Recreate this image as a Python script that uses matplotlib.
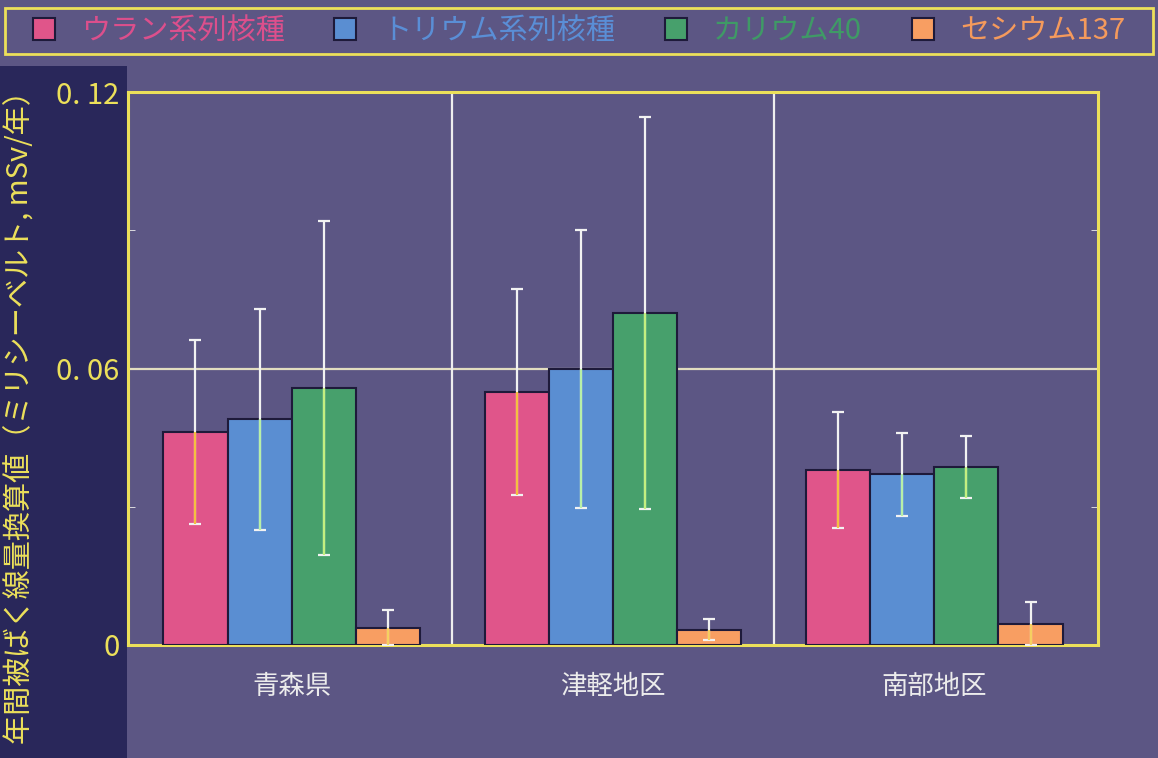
import matplotlib
matplotlib.use("Agg")
import matplotlib.pyplot as plt
from matplotlib.patches import Rectangle
import numpy as np

plt.rcParams['font.family'] = ['Noto Sans CJK JP', 'DejaVu Sans']

# データ
areas = ['青森県', '津軽地区', '南部地区']
series = ['ウラン系列核種', 'トリウム系列核種', 'カリウム40', 'セシウム137']
uran = [0.0462, 0.0549, 0.0380]
uran_sd = [0.0200, 0.0223, 0.0126]
thorium = [0.0490, 0.0599, 0.0371]
thorium_sd = [0.0240, 0.0302, 0.0090]
kalium = [0.0558, 0.0720, 0.0386]
kalium_sd = [0.0363, 0.0425, 0.0068]
cesium = [0.0037, 0.0033, 0.0046]
cesium_sd = [0.0039, 0.0023, 0.0047]
yticks = [0, 0.06, 0.12]
ytick_labels = ['0', '0. 06', '0. 12']

values = [uran, thorium, kalium, cesium]
sds = [uran_sd, thorium_sd, kalium_sd, cesium_sd]

bg = '#5c5684'
panel = '#29275a'
yellow = '#ece05a'
bar_colors = ['#e0558a', '#5a8ed2', '#47a06c', '#f89e62']
text_colors = ['#dc4f8c', '#5a8ed6', '#3f9a66', '#f59a5c']
inner_err = ['#f5c040', '#b8f0a8', '#c4f080', '#f5d060']

fig = plt.figure(figsize=(11.58, 7.58), dpi=100, facecolor=bg)

# 左の濃い帯
fig.patches.append(Rectangle((0, 0), 127 / 1158, 1 - 66 / 758, transform=fig.transFigure,
                             facecolor=panel, edgecolor='none', zorder=-1))

ax = fig.add_axes([128 / 1158, 1 - 645 / 758, 970 / 1158, 553 / 758])
ax.set_facecolor(bg)

x = np.arange(len(areas))
width = 0.2
handles = []
for i, (vals, sd) in enumerate(zip(values, sds)):
    pos = x + (i - 1.5) * width
    b = ax.bar(pos, vals, width, color=bar_colors[i], edgecolor='#1e1a3a', linewidth=1.5,
               zorder=3, label=series[i])
    handles.append(b)
    lower = np.minimum(np.array(sd), np.array(vals))
    ax.errorbar(pos, vals, yerr=[lower, sd], fmt='none', ecolor='#f2f2f2', elinewidth=1.6,
                capsize=4, capthick=1.6, zorder=4)
    # 棒の内側の誤差線は色付き
    ax.vlines(pos, np.array(vals) - lower, vals, color=inner_err[i], linewidth=1.6, zorder=5)

# 0.06 の線と区切り線
ax.axhline(0.06, color='#e2ddc0', linewidth=1.6, zorder=1)
for sep in [0.5, 1.5]:
    ax.axvline(sep, color='#eeeeee', linewidth=1.6, zorder=1)

ax.set_xlim(-0.51, 2.51)
ax.set_ylim(0, 0.12)
ax.set_yticks(yticks)
ax.set_yticklabels(ytick_labels)
ax.set_yticks([0.03, 0.09], minor=True)
ax.tick_params(axis='y', which='major', length=0, pad=6, labelsize=21, labelcolor=yellow)
ax.tick_params(axis='y', which='minor', direction='in', length=5, color='#eeeeee',
               left=True, right=True)
ax.set_xticks(x)
ax.set_xticklabels(areas)
ax.tick_params(axis='x', length=0, pad=20, labelsize=19, labelcolor='#ececec')

for s in ax.spines.values():
    s.set_color(yellow)
    s.set_linewidth(2.2)

fig.text(20 / 1158, 1 - 410 / 758, '年間被ばく線量換算値（ミリシーベルト, mSv/年）',
         rotation=90, ha='center', va='center', fontsize=21, color=yellow)

# 凡例
fig.patches.append(Rectangle((5 / 1158, 1 - 54 / 758), 1148 / 1158, 46 / 758,
                             transform=fig.transFigure, facecolor='none',
                             edgecolor=yellow, linewidth=2))
leg = fig.legend(handles=handles, loc='center', bbox_to_anchor=(0.5, 1 - 31 / 758), ncol=4,
                 frameon=False, fontsize=21, handlelength=0.75, handleheight=0.75,
                 handletextpad=0.9, columnspacing=1.7)
for t, c in zip(leg.get_texts(), text_colors):
    t.set_color(c)

plt.savefig('out.png', dpi=100, facecolor=bg)
